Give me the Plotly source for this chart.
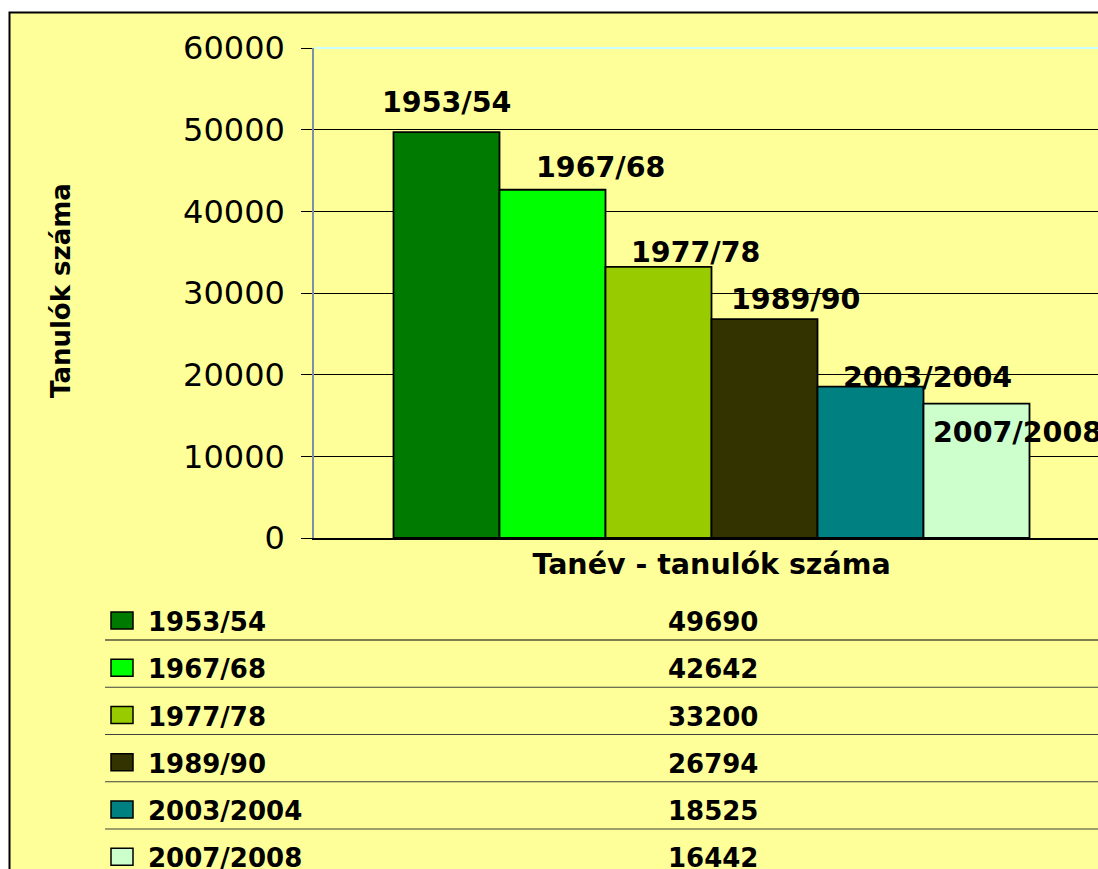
import plotly.graph_objects as go

# ---- data ----
category = "Tanév - tanulók száma"
years = ["1953/54", "1967/68", "1977/78", "1989/90", "2003/2004", "2007/2008"]
students = [49690, 42642, 33200, 26794, 18525, 16442]
colors = ["#007A00", "#00FF00", "#99CC00", "#333300", "#008080", "#CCFFCC"]
y_ticks = [0, 10000, 20000, 30000, 40000, 50000, 60000]

# ---- style / layout constants (page pixels) ----
W, H = 1098, 869
PL, PR, PT, PB = 314, 1098, 48, 538   # plot area in page pixels
BG = "#FFFF99"
FONT = "DejaVu Sans"
# label offsets relative to category centre / bar top (pixels)
label_dx = [-265, -111.5, -16.5, 83.5, 215.5, 305.5]
label_dy = [30, 22, 14, 20, 9, -29]

def px_x(p):
    return (p - PL) / (PR - PL)

def px_y(p):
    return (PB - p) / (PB - PT)

fig = go.Figure()
for name, val, col in zip(years, students, colors):
    fig.add_trace(go.Bar(
        x=[category], y=[val], name=name,
        marker=dict(color=col, line=dict(color="black", width=1.8)),
        showlegend=False, hoverinfo="name+y",
    ))

shapes = []
annotations = []

# chart frame (yellow area with black border)
shapes.append(dict(type="rect", xref="paper", yref="paper", layer="below",
                   x0=px_x(9.5), x1=px_x(1110), y0=px_y(890), y1=px_y(12.5),
                   fillcolor=BG, line=dict(color="black", width=2)))
# light top border of the plot area
shapes.append(dict(type="line", xref="paper", yref="paper", layer="above",
                   x0=px_x(315), x1=1.0, y0=1.0, y1=1.0,
                   line=dict(color="#CCFFFF", width=2)))

# bar labels (series names)
for i, (name, val) in enumerate(zip(years, students)):
    annotations.append(dict(x=category, y=val, xref="x", yref="y",
                            text=f"<b>{name}</b>", showarrow=False,
                            xshift=label_dx[i], yshift=label_dy[i],
                            xanchor="center", yanchor="middle",
                            font=dict(family=FONT, size=28.5, color="black")))

# y axis title
annotations.append(dict(x=px_x(61), y=px_y(291), xref="paper", yref="paper",
                        text="<b>Tanulók száma</b>", textangle=-90, showarrow=False,
                        xanchor="center", yanchor="middle",
                        font=dict(family=FONT, size=26, color="black")))

# data table below the chart
row0, row_h = 622, 47.25
for i, (name, val, col) in enumerate(zip(years, students, colors)):
    yc = row0 + i * row_h
    shapes.append(dict(type="rect", xref="paper", yref="paper",
                       x0=px_x(111), x1=px_x(133), y0=px_y(yc + 7), y1=px_y(yc - 10),
                       fillcolor=col, line=dict(color="black", width=1.5)))
    annotations.append(dict(x=px_x(146), y=px_y(yc), xref="paper", yref="paper",
                            text=f"<b>{name}</b>", showarrow=False,
                            xanchor="left", yanchor="middle",
                            font=dict(family=FONT, size=26, color="black")))
    annotations.append(dict(x=px_x(713), y=px_y(yc), xref="paper", yref="paper",
                            text=f"<b>{val}</b>", showarrow=False,
                            xanchor="center", yanchor="middle",
                            font=dict(family=FONT, size=26, color="black")))
    if i < len(years) - 1:
        ly = 640 + i * row_h
        shapes.append(dict(type="line", xref="paper", yref="paper",
                           x0=px_x(105), x1=px_x(1110), y0=px_y(ly), y1=px_y(ly),
                           line=dict(color="black" if i == 0 else "#404040", width=1.2)))

fig.update_layout(
    width=W, height=H,
    margin=dict(l=PL, r=W - PR, t=PT, b=H - PB, pad=0),
    paper_bgcolor="white", plot_bgcolor=BG,
    barmode="group", bargap=0.2, bargroupgap=0,
    font=dict(family=FONT, color="black"),
    shapes=shapes, annotations=annotations,
    xaxis=dict(type="category", range=[-0.5, 784 / 795 - 0.5],
               showline=True, linecolor="black", linewidth=1.5,
               showgrid=False, ticks="", ticklabelstandoff=0,
               tickfont=dict(family=FONT, size=28.5, color="black"),
               tickprefix="<b>", ticksuffix="</b>", fixedrange=True),
    yaxis=dict(range=[0, 60000], tickvals=y_ticks,
               ticktext=[str(v) for v in y_ticks],
               showgrid=True, gridcolor="black", gridwidth=1,
               showline=True, linecolor="#7F8FA6", linewidth=1.5,
               ticks="outside", ticklen=11, tickcolor="black", tickwidth=1,
               ticklabelstandoff=10, zeroline=False,
               tickfont=dict(family=FONT, size=32, color="black"), fixedrange=True),
)

fig.write_html(
    "out.html",
    config={"displayModeBar": False},
    post_script="document.body.style.margin='0';document.body.style.overflow='hidden';"
                "document.documentElement.style.overflow='hidden';",
)
